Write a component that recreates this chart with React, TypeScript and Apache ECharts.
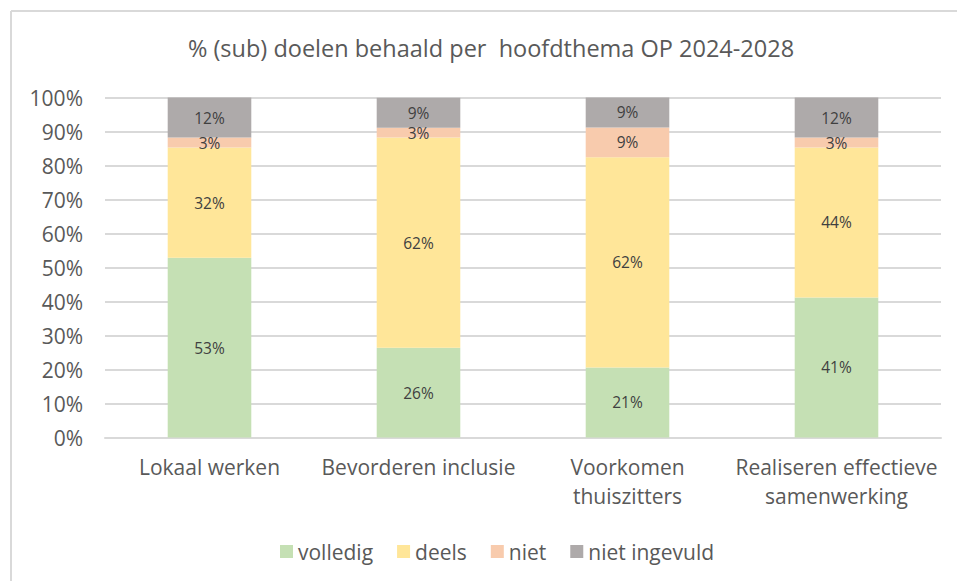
import React, { useEffect, useRef } from "react";
import * as echarts from "echarts";

const categories = [
  "Lokaal werken",
  "Bevorderen inclusie",
  "Voorkomen\nthuiszitters",
  "Realiseren effectieve\nsamenwerking",
];
const volledig = [52.9, 26.4, 20.6, 41.2];
const deels = [32.4, 61.8, 61.8, 44.1];
const niet = [2.9, 2.9, 8.8, 2.9];
const nietIngevuld = [11.8, 8.8, 8.8, 11.8];
const seriesNames = ["volledig", "deels", "niet", "niet ingevuld"];
const colors = ["#C5E0B4", "#FFE699", "#F8CBAD", "#AEAAAA"];

const FONT = "'Open Sans', 'Noto Sans', sans-serif";

export default function App() {
  const ref = useRef<HTMLDivElement>(null);
  useEffect(() => {
    if (!ref.current) return;
    const chart = echarts.init(ref.current, null, { renderer: "svg" });
    const data = [volledig, deels, niet, nietIngevuld];
    chart.setOption({
      animation: false,
      textStyle: { fontFamily: FONT },
      title: {
        text: "% (sub) doelen behaald per  hoofdthema OP 2024-2028",
        left: 486,
        textAlign: "center",
        top: 31,
        textStyle: { fontFamily: FONT, fontSize: 23.5, fontWeight: "normal", color: "#595959" },
      },
      graphic: [
        { type: "line", shape: { x1: 11, y1: 11, x2: 957, y2: 11 }, style: { stroke: "#D9D9D9", lineWidth: 2 } },
        { type: "line", shape: { x1: 11, y1: 11, x2: 11, y2: 581 }, style: { stroke: "#D9D9D9", lineWidth: 2 } },
      ],
      legend: {
        data: seriesNames,
        left: 275,
        top: 536,
        icon: "rect",
        itemWidth: 13,
        itemHeight: 13,
        itemGap: 24,
        textStyle: { fontFamily: FONT, fontSize: 21, color: "#595959" },
      },
      grid: {
        left: 105,
        right: 16,
        top: 97.5,
        bottom: 143.5,
        containLabel: false,
        outerBoundsMode: "none",
      },
      xAxis: {
        type: "category",
        data: categories,
        axisTick: { show: false },
        axisLine: { lineStyle: { color: "#D9D9D9", width: 2 } },
        axisLabel: {
          fontFamily: FONT,
          fontSize: 21,
          color: "#595959",
          margin: 15,
          lineHeight: 29,
          interval: 0,
        },
      },
      yAxis: {
        type: "value",
        min: 0,
        max: 100,
        interval: 10,
        axisLine: { show: false },
        axisTick: { show: false },
        splitLine: { lineStyle: { color: "#D9D9D9", width: 2 } },
        axisLabel: {
          fontFamily: FONT,
          fontSize: 21,
          color: "#595959",
          margin: 22,
          formatter: (v: number) => v + "%",
        },
      },
      series: seriesNames.map((name, i) => ({
        name,
        type: "bar",
        stack: "total",
        barWidth: "40%",
        data: data[i],
        itemStyle: { color: colors[i] },
        label: {
          show: true,
          position: "inside",
          fontFamily: FONT,
          fontSize: 15.5,
          color: "#404040",
          formatter: (p: any) => Math.round(p.value) + "%",
        },
      })),
    });
    return () => chart.dispose();
  }, []);
  return (
    <div
      ref={ref}
      style={{ position: "fixed", left: 0, top: 0, width: 957, height: 581, background: "#fff" }}
    />
  );
}
